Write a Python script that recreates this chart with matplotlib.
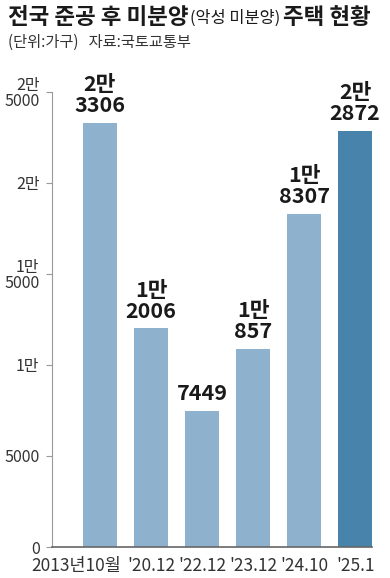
import matplotlib
matplotlib.use("Agg")
import matplotlib.pyplot as plt
import matplotlib.transforms as mtransforms

plt.rcParams['font.family'] = ['Noto Sans CJK KR', 'DejaVu Sans']

# data
periods = ["2013년10월", "'20.12", "'22.12", "'23.12", "'24.10", "'25.1"]
units = [23306, 12006, 7449, 10857, 18307, 22872]
value_labels = ["2만\n3306", "1만\n2006", "7449", "1만\n857", "1만\n8307", "2만\n2872"]
ytick_vals = [0, 5000, 10000, 15000, 20000, 25000]
ytick_labels = ["0", "5000", "1만", "1만\n5000", "2만", "2만\n5000"]

light = "#8EB1CE"
dark = "#4883AC"

fig = plt.figure(figsize=(3.9, 5.78), dpi=100)
ax = fig.add_axes([52/390, 31/578, 320/390, 455/578])

x = list(range(len(units)))
colors = [light] * (len(units) - 1) + [dark]
bars = ax.bar(x, units, width=0.667, color=colors)

for b, lab in zip(bars, value_labels):
    ax.annotate(lab, (b.get_x() + b.get_width() / 2, b.get_height()),
                xytext=(0, 5), textcoords="offset points",
                ha="center", va="bottom", fontsize=15.5, fontweight="bold",
                linespacing=1.0, color="#1a1a1a")

ax.set_xlim(-0.94, 5.33)
ax.set_ylim(0, 25000)

ax.set_yticks(ytick_vals)
ax.set_yticklabels(ytick_labels, fontsize=11.5, linespacing=0.95, color="#333333")
ax.tick_params(axis="y", length=4, width=0.8, color="#999999", pad=5)

ax.set_xticks(x)
ax.set_xticklabels(periods, fontsize=12.5, color="#333333")
ax.tick_params(axis="x", length=0, pad=7)
# first label sits left of its bar in the original
first = ax.get_xticklabels()[0]
first.set_transform(first.get_transform() +
                    mtransforms.ScaledTranslation(-24/100, 0, fig.dpi_scale_trans))

for s in ["top", "right"]:
    ax.spines[s].set_visible(False)
ax.spines["left"].set_color("#999999")
ax.spines["left"].set_linewidth(0.8)
ax.spines["bottom"].set_color("#666666")
ax.spines["bottom"].set_linewidth(1.2)

# title
t1 = fig.text(8/390, 1 - 17/578, "전국 준공 후 미분양", fontsize=16.2, fontweight="bold",
              va="center", ha="left", color="#1a1a1a")
fig.canvas.draw()
r = fig.canvas.get_renderer()
bb = t1.get_window_extent(r)
t2 = fig.text((bb.x1 + 2) / 390, 1 - 18/578, "(악성 미분양)", fontsize=11.8,
              va="center", ha="left", color="#1a1a1a")
bb2 = t2.get_window_extent(r)
fig.text((bb2.x1 + 2) / 390, 1 - 17/578, "주택 현황", fontsize=16.2, fontweight="bold",
         va="center", ha="left", color="#1a1a1a")

fig.text(8/390, 1 - 42/578, "(단위:가구)   자료:국토교통부", fontsize=11,
         va="center", ha="left", color="#333333")

fig.savefig("out.png", dpi=100)
